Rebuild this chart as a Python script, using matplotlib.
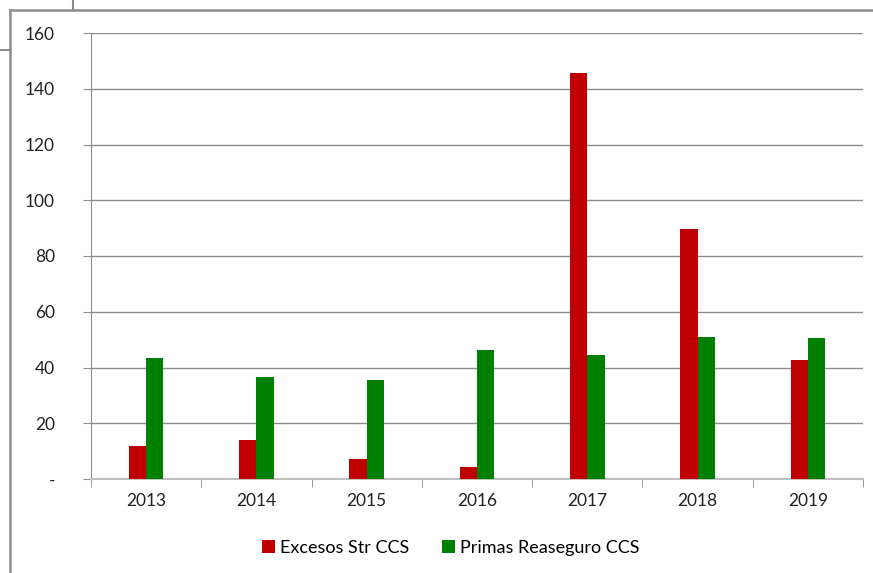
import matplotlib.pyplot as plt
import numpy as np
from matplotlib.lines import Line2D

years = ['2013', '2014', '2015', '2016', '2017', '2018', '2019']
excesos = [11.8, 13.9, 7.1, 4.4, 145.8, 89.7, 42.7]
primas = [43.3, 36.6, 35.5, 46.1, 44.5, 51.0, 50.6]

plt.rcParams['font.family'] = ['Lato', 'DejaVu Sans']

fig = plt.figure(figsize=(8.73, 5.73), dpi=100)
ax = fig.add_axes([91 / 873, 1 - 479 / 573, 772 / 873, 446 / 573])

x = np.arange(len(years))
w = 0.157
ax.bar(x - w / 2, excesos, w, color='#C00000', label='Excesos Str CCS', zorder=3)
ax.bar(x + w / 2, primas, w, color='#008000', label='Primas Reaseguro CCS', zorder=3)

ax.set_xlim(-0.5, len(years) - 0.5)
ax.set_ylim(0, 160)
ax.set_yticks(range(0, 161, 20))
ax.set_yticklabels(['-'] + [str(v) for v in range(20, 161, 20)])
ax.set_xticks(x)
ax.set_xticklabels(years)
ax.set_xticks(np.arange(-0.5, len(years), 1), minor=True)

ax.grid(axis='y', color='#8c8c8c', linewidth=1, zorder=0)
for s in ['top', 'right']:
    ax.spines[s].set_visible(False)
ax.spines['left'].set_color('#8c8c8c')
ax.spines['bottom'].set_color('#bfbfbf')
ax.spines['bottom'].set_linewidth(1.5)
ax.tick_params(axis='y', length=6, color='#8c8c8c', labelsize=12.5, pad=20, labelcolor='#222222')
ax.tick_params(axis='x', which='major', length=0, labelsize=12.5, pad=10, labelcolor='#222222')
ax.tick_params(axis='x', which='minor', length=6, color='#8c8c8c')

ax.legend(loc='upper center', bbox_to_anchor=(0.466, -0.1), ncol=2, frameon=False,
          fontsize=13, handlelength=0.7, handleheight=0.7, handletextpad=0.3,
          columnspacing=1.8)

# outer frame pieces
c = '#8c8c8c'
fig.add_artist(Line2D([10 / 873, 10 / 873], [0, 1 - 10 / 573], color=c, lw=1.8))
fig.add_artist(Line2D([10 / 873, 1], [1 - 10 / 573, 1 - 10 / 573], color=c, lw=1.8))
fig.add_artist(Line2D([73 / 873, 73 / 873], [1 - 10 / 573, 1], color=c, lw=1.5))
fig.add_artist(Line2D([0, 10 / 873], [1 - 50 / 573, 1 - 50 / 573], color=c, lw=1.5))

fig.savefig('out.png', dpi=100)
